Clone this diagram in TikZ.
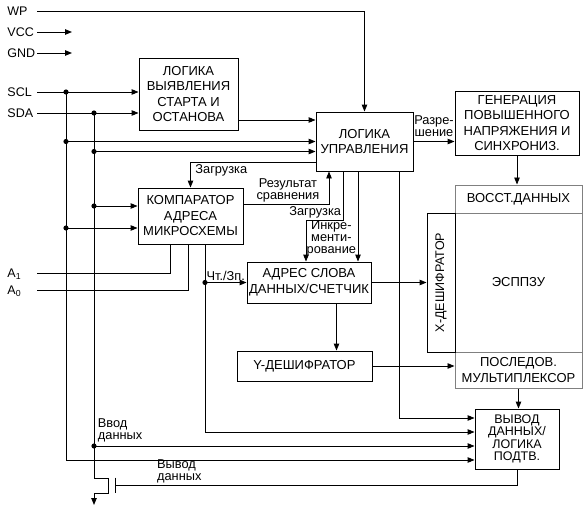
\documentclass[tikz,border=0pt]{standalone}
\usepackage{fontspec}
\setmainfont{Liberation Sans}
\usetikzlibrary{arrows.meta}

\begin{document}
\begin{tikzpicture}[x=1pt,y=-1pt,line width=0.9pt,
  arr/.style={-{Triangle[length=7pt,width=5.5pt]}},
  blk/.style={draw,align=center,inner sep=0pt,font=\fontsize{13}{15.5}\selectfont},
  memblk/.style={blk,draw=black!50,line width=1pt},
  lbl/.style={font=\fontsize{12.8}{12}\selectfont,inner sep=1.5pt},
  pinlbl/.style={anchor=west,inner sep=0pt,font=\fontsize{12.5}{14}\selectfont}]
\useasboundingbox (0,0) rectangle (584,511);

% blocks
\node[blk,minimum width=99pt,minimum height=72pt] (det) at (188.5,94) {ЛОГИКА\\ВЫЯВЛЕНИЯ\\СТАРТА И\\ОСТАНОВА};
\node[blk,minimum width=97pt,minimum height=59pt] (ctl) at (364.5,141.5) {ЛОГИКА\\УПРАВЛЕНИЯ};
\node[blk,minimum width=124pt,minimum height=64pt] (gen) at (517,123) {ГЕНЕРАЦИЯ\\ПОВЫШЕННОГО\\НАПРЯЖЕНИЯ И\\СИНХРОНИЗ.};
\node[blk,minimum width=105pt,minimum height=56pt] (cmp) at (190.5,216) {КОМПАРАТОР\\АДРЕСА\\МИКРОСХЕМЫ};
\node[blk,minimum width=124pt,minimum height=41pt] (adr) at (309,282.5) {АДРЕС СЛОВА\\ДАННЫХ/СЧЕТЧИК};
\node[blk,minimum width=135pt,minimum height=30pt] (ydec) at (304.5,366) {Y-ДЕШИФРАТОР};
\node[memblk,minimum width=127pt,minimum height=28pt] (rest) at (518.5,199) {ВОССТ.ДАННЫХ};
\node[memblk,minimum width=127pt,minimum height=139pt] (mem) at (518.5,282.5) {ЭСППЗУ};
\node[memblk,minimum width=127pt,minimum height=36pt] (mux) at (518.5,370) {ПОСЛЕДОВ.\\МУЛЬТИПЛЕКСОР};
\node[blk,minimum width=28pt,minimum height=139pt] (xdec) at (441,282.5) {};
\node[rotate=90,font=\fontsize{12.5}{15}\selectfont] (xdecT) at (xdec) {X-ДЕШИФРАТОР};
\node[blk,minimum width=84pt,minimum height=60pt,font=\fontsize{12.5}{12.5}\selectfont] (out) at (517,439) {ВЫВОД\\ДАННЫХ/\\ЛОГИКА\\ПОДТВ.};

% pins
\node[pinlbl] (wpL) at (7,11) {WP};
\node[pinlbl] (vccL) at (7,32) {VCC};
\node[pinlbl] (gndL) at (7,53) {GND};
\node[pinlbl] (sclL) at (7,92) {SCL};
\node[pinlbl] (sdaL) at (7,113) {SDA};
\node[pinlbl] (a1L) at (7,274) {A\textsubscript{1}};
\node[pinlbl] (a0L) at (7,291) {A\textsubscript{0}};
\coordinate (wp) at (37,11);
\coordinate (vcc) at (37,32);
\coordinate (vccE) at (72,32);
\coordinate (gnd) at (37,53);
\coordinate (gndE) at (72,53);
\coordinate (scl) at (37,92);
\coordinate (sda) at (37,113);
\coordinate (a1) at (37,273);
\coordinate (a0) at (37,290);
\coordinate (sclD) at (66,92);
\coordinate (sdaD) at (94,113);

% ports
\coordinate (detOut) at ([yshift=-26pt]det.east);
\coordinate (ctlIn2) at ([yshift=-10pt]ctl.west);
\coordinate (ctlLd) at ([yshift=-21pt]ctl.west);
\coordinate (ctlAdr) at ([xshift=-21.5pt]ctl.south);
\coordinate (ctlInc) at ([xshift=-6.5pt]ctl.south);
\coordinate (ctlOut) at ([xshift=35pt]ctl.south);
\coordinate (ctlRes) at ([xshift=-35.5pt]ctl.south);
\coordinate (cmpIn1) at ([yshift=10pt]cmp.west);
\coordinate (cmpIn2) at ([yshift=-12pt]cmp.west);
\coordinate (cmpRes) at ([yshift=12pt]cmp.east);
\coordinate (cmpA1) at ([xshift=-20.5pt]cmp.south);
\coordinate (cmpA0) at ([xshift=-2.5pt]cmp.south);
\coordinate (cmpRw) at ([xshift=14.5pt]cmp.south);
\coordinate (adrLd) at ([xshift=-3pt]adr.north);
\coordinate (adrY) at ([xshift=27.5pt]adr.south);
\coordinate (outIn1) at ([yshift=21pt]out.west);
\coordinate (outIn2) at ([yshift=7pt]out.west);
\coordinate (outIn3) at ([yshift=-7pt]out.west);
\coordinate (outIn4) at ([yshift=-21pt]out.west);
\coordinate (sclT1) at (sclD |- ctl.west);
\coordinate (sdaT1) at (sdaD |- ctlIn2);
\coordinate (sdaT2) at (sdaD |- cmpIn1);
\coordinate (sclT2) at (sclD |- cmpIn2);
\coordinate (din) at (sdaD |- outIn3);
\coordinate (rw) at (cmpRw |- adr.west);
\coordinate (gate) at (115,485);

% pin lines
\draw[arr] (wp) -| (ctl.north);
\draw[arr] (vcc) -- (vccE);
\draw[arr] (gnd) -- (gndE);
\draw[arr] (scl) -- (det.west |- scl);
\draw[arr] (sda) -- (det.west |- sda);
\draw (a1) -| (cmpA1);
\draw (a0) -| (cmpA0);

% buses
\draw[arr] (sclD) |- (outIn4);
\draw[arr] (sdaD) |- (outIn3);
\draw[arr] (sclT1) -- (ctl.west);
\draw[arr] (sdaT1) -- (ctlIn2);
\draw[arr] (sdaT2) -- (cmpIn1);
\draw[arr] (sclT2) -- (cmpIn2);
\foreach \p in {sclD,sdaD,sclT1,sdaT1,sdaT2,sclT2,din,rw}
  \fill (\p) circle [radius=2.6pt];

% control paths
\draw[arr] (detOut) -- (ctl.west |- detOut);
\draw[arr] (ctlLd) -| node[lbl,pos=0.5,below right,xshift=3pt] {Загрузка} (cmp.north);
\draw[arr] (cmpRes) -| node[lbl,pos=0.26,above,align=center] {Результат\\сравнения} (ctlRes);
\draw[arr] (ctlAdr) -- ++(0,49) node[lbl,above left] {Загрузка} -| (adrLd);
\draw[arr] (ctlInc) -- node[lbl,pos=0.74,left,align=center] {Инкре-\\менти-\\рование} (ctlInc |- adr.north);
\draw[arr] (ctlOut) |- (outIn1);
\draw[arr] (ctl.east) -- node[lbl,above,yshift=3pt,align=center] {Разре-\\шение} (gen.west |- ctl.east);
\draw[arr] (gen.south) -- (gen.south |- rest.north);
\draw[arr] (cmpRw) |- (outIn2);
\draw[arr] (rw) -- node[lbl,above] {Чт./Зп.} (adr.west);

% data paths
\draw[arr] (adr.east) -- (xdec.west |- adr.east);
\draw[arr] (adrY) -- (adrY |- ydec.north);
\draw[arr] (ydec.east) -- (mux.west |- ydec.east);
\draw[arr] (mux.south) -- (mux.south |- out.north);
\draw (out.south) |- node[lbl,pos=0.92,above,align=left] {Вывод\\данных} (gate);
\draw ([yshift=7.5pt]gate) -- ([yshift=-7.5pt]gate);
\draw[arr] (din) -- ++(0,32) -- ++(14,0) -- ++(0,15) -- ++(-14,0) -- ++(0,12);
\node[lbl,anchor=south west,align=left,xshift=2pt,yshift=2pt] (dinL) at (din) {Ввод\\данных};
\end{tikzpicture}
\end{document}
